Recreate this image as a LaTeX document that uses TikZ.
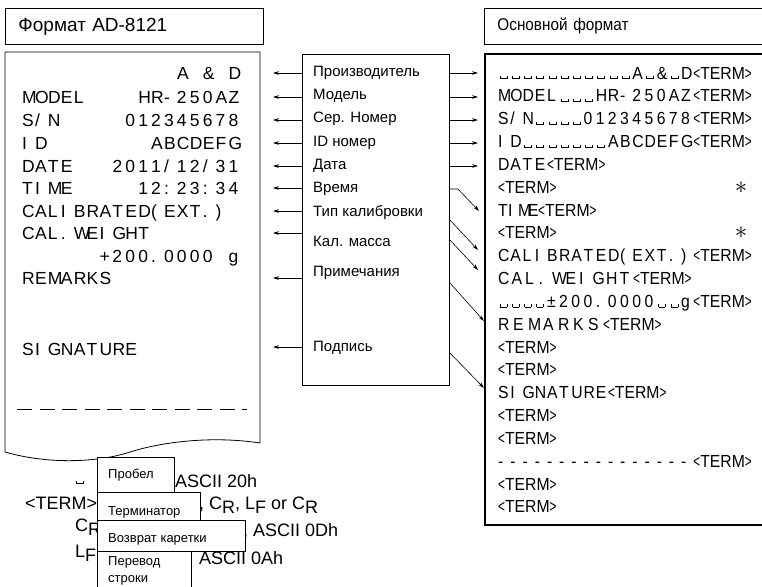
\documentclass[tikz,border=0pt]{standalone}
\usepackage{fontspec,graphicx}
\setmainfont{Liberation Sans}
\newfontfamily\fmtfont{Liberation Sans}[FakeStretch=0.9]
\usetikzlibrary{arrows.meta,positioning}
\newcommand\vsp{\kern1.5pt\rule{0.6pt}{3pt}\rule{6.5pt}{0.6pt}\rule{0.6pt}{3pt}}
\newcommand\term{\scalebox{0.75}[1]{<}TERM\scalebox{0.75}[1]{>}}
\newcommand\lowr[2]{#1\raisebox{-4pt}{#2}}
\makeatletter
\newcommand\cells[2][12.2pt]{\@tfor\cellch:=#2\do{\makebox[#1][l]{\cellch}}}
\makeatother
\newcommand\tapecells[1]{\cells[12.9pt]{#1}}

\begin{document}
\begin{tikzpicture}[x=1pt,y=-1pt,
  arr/.style={-{Stealth[length=6pt,width=3.6pt]},line width=.6pt},
  boxline/.style={draw,line width=.9pt},
  ttlbox/.style={boxline,anchor=north west,minimum height=36pt,inner xsep=13pt,
    align=left,font=\fontsize{19}{21}\selectfont},
  tape/.style={inner sep=0pt,anchor=base west,font=\fontsize{17.5}{20}\selectfont},
  fmt/.style={inner sep=0pt,anchor=base west,font=\fmtfont\fontsize{17.5}{20}\selectfont},
  midlbl/.style={inner sep=0pt,anchor=west,font=\fontsize{15}{17}\selectfont},
  keylbl/.style={inner sep=0pt,anchor=west,font=\fontsize{18}{20}\selectfont},
  keybox/.style={boxline,fill=white},
  keytext/.style={inner sep=0pt,anchor=west,align=left,font=\fontsize{13}{16}\selectfont}
]
  \useasboundingbox (0,0) rectangle (762,586);
  \clip (0,0) rectangle (762,586);

  \node[ttlbox,text width=232pt] (ttl-tape) at (5,8) {Формат AD-8121};
  \node[ttlbox,text width=278pt,font=\fmtfont\fontsize{17}{21}\selectfont]
    (ttl-fmt) at (484,8) {Основной формат};

  \draw[line width=.8pt] (5,52) -- (5,452)
    .. controls (50,465) and (100,462) .. (130,452)
    .. controls (165,441) and (215,436) .. (260,443) -- (260,52) -- cycle;
  \draw[line width=.8pt,dash pattern=on 15pt off 7.5pt] (17,409) -- (247,409);

  \foreach \y/\t [count=\i] in {
      73/{~~~~~~~~~~~~A~\&~D}, 97/{MODEL~~~~HR-250AZ}, 120/{S/N~~~~~012345678},
      143/{ID~~~~~~~~ABCDEFG}, 166/{DATE~~~2011/12/31}, 188/{TIME~~~~~12:23:34},
      211/{CALIBRATED(EXT.)}, 233/{CAL.WEIGHT}, 256/{~~~~~~+200.0000~g},
      278/{REMARKS}, 349/{SIGNATURE}}
    \node[tape] (line\i) at (22,\y+6) {\expandafter\tapecells\expandafter{\t}};

  \node[boxline,anchor=north west,minimum width=147pt,minimum height=331pt,
    inner sep=0pt] (mid) at (302,54) {};
  \foreach \y/\t [count=\i] in {73/Производитель,96/Модель,119/Сер. Номер,
      143/ID номер,166/Дата,189/Время,213/Тип калибровки,241/Кал. масса,
      273/Примечания,348/Подпись}
    \node[midlbl] (part\i) at (313,\y) {\t};

  \foreach \y [count=\i] in {73,97,120,143,166,188,211,233,278,347}{
    \coordinate (tip\i) at (273,\y);
    \draw[arr] (mid.west |- tip\i) -- (tip\i);
  }
  \foreach \y [count=\i] in {73,97,120,143,166}{
    \coordinate (dst\i) at (478,\y);
    \draw[arr] (mid.east |- dst\i) -- (dst\i);
  }
  \coordinate (src6) at (0,189);
  \coordinate (dst6) at (479,211);
  \draw[arr] (mid.east |- src6) -- ++(8,0) -- (dst6);
  \foreach \ys/\ye/\xe [count=\i from 7] in {220/250/478,240/270/478,283/321/484,353/388/484}{
    \coordinate (src\i) at (0,\ys);
    \coordinate (dst\i) at (\xe,\ye);
    \draw[arr] (mid.east |- src\i) -- (dst\i);
  }

  \node[boxline,line width=1.6pt,anchor=north west,minimum width=300pt,
    minimum height=471pt,inner sep=0pt] (fmtbox) at (484,53) {};
  \foreach \t [count=\i] in {
      {\cells{\vsp\vsp\vsp\vsp\vsp\vsp\vsp\vsp\vsp\vsp\vsp A\vsp\&\vsp D}\term},
      {\cells{MODEL\vsp\vsp\vsp HR-250AZ}\term},
      {\cells{S/N\vsp\vsp\vsp\vsp 012345678}\term},
      {\cells{ID\vsp\vsp\vsp\vsp\vsp\vsp\vsp ABCDEFG}\term},
      {\cells{DATE}\term}, {\term}, {\cells[10pt]{TIME}\term}, {\term},
      {\cells{CALIBRATED(EXT.)}\term}, {\cells[13.5pt]{CAL.WEIGHT}\term},
      {\cells{\vsp\vsp\vsp\vsp±200.0000\vsp\vsp g}\term},
      {\cells[15pt]{REMARKS}\term}, {\term}, {\term}, {\cells{SIGNATURE}\term},
      {\term}, {\term}, {\cells{----------------}\term},
      {\term}, {\term}}
    \node[fmt] (row\i) at (498,{79+22.84*(\i-1)}) {\t};
  \foreach \y [count=\i] in {188,233}
    \node[inner sep=0pt,font=\fontsize{24}{24}\selectfont] (star\i) at (741,\y) {$\ast$};

  \node[keylbl,anchor=base west] (key-sp) at (74,484) {\vsp};
  \node[keylbl] (key-sp-code) at (175,481) {ASCII 20h};
  \node[keylbl] (key-term) at (25,503) {<TERM>};
  \node[keylbl] (key-term-code) at (199,505) {, \lowr{C}{R}, \lowr{L}{F} or \lowr{C}{R}};
  \node[keylbl] (key-cr) at (75,527) {\lowr{C}{R}};
  \node[keylbl] (key-cr-code) at (243,531) {, ASCII 0Dh};
  \node[keylbl] (key-lf) at (75,553) {\lowr{L}{F}};
  \node[keylbl] (key-lf-code) at (199,558) {ASCII 0Ah};

  \draw[keybox] (97,457) rectangle (174,492);
  \draw[keybox] (97,492) rectangle (200,520);
  \draw[keybox] (97,520) rectangle (245,551);
  \draw[keybox] (97,551) rectangle (191,600);
  \node[keytext] (txt-sp) at (108,475) {Пробел};
  \node[keytext] (txt-term) at (108,512) {Терминатор};
  \node[keytext] (txt-cr) at (108,539) {Возврат каретки};
  \node[keytext,font=\fontsize{13}{17}\selectfont] (txt-lf) at (108,571) {Перевод\\строки};
\end{tikzpicture}
\end{document}
